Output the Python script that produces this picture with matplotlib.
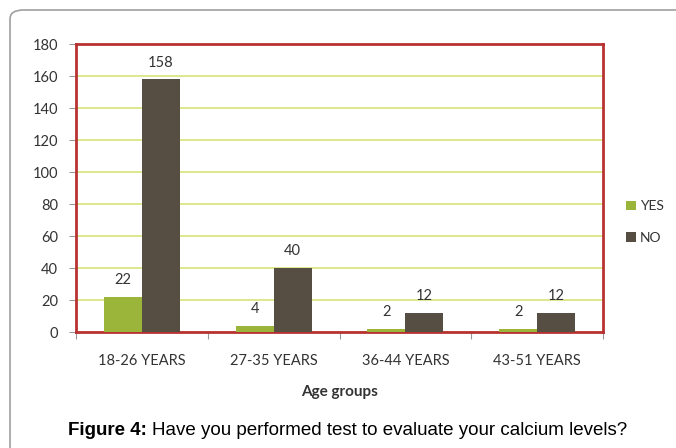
import numpy as np
import matplotlib.pyplot as plt
from matplotlib.patches import FancyBboxPatch

groups = ['18-26 YEARS', '27-35 YEARS', '36-44 YEARS', '43-51 YEARS']
yes = [22, 4, 2, 2]
no = [158, 40, 12, 12]
yticks = [0, 20, 40, 60, 80, 100, 120, 140, 160, 180]

c_yes = '#9bb53a'
c_no = '#564d43'
txt = '#333333'

plt.rcParams['font.family'] = ['Lato', 'DejaVu Sans']

W, H = 676, 448
fig = plt.figure(figsize=(W / 100, H / 100), dpi=100)

# grey rounded frame around the figure (runs off right and bottom edge)
frame = FancyBboxPatch((10 / W, -0.1), 1.2, (H - 10) / H + 0.1,
                       boxstyle='round,pad=0,rounding_size=0.02',
                       transform=fig.transFigure, fill=False,
                       edgecolor='#a0a0a0', linewidth=1.2)
fig.patches.append(frame)

ax = fig.add_axes([76 / W, 1 - 332 / H, (603 - 76) / W, (332 - 44) / H])

x = np.arange(len(groups))
w = 0.288
b1 = ax.bar(x - w / 2, yes, w, color=c_yes, label='YES', zorder=3)
b2 = ax.bar(x + w / 2, no, w, color=c_no, label='NO', zorder=3)

for bars, vals in ((b1, yes), (b2, no)):
    for r, v in zip(bars, vals):
        ax.text(r.get_x() + r.get_width() / 2, v + 6, str(v),
                ha='center', va='bottom', fontsize=10.5, color=txt)

ax.set_xlim(-0.5, len(groups) - 0.5)
ax.set_ylim(0, 180)
ax.set_yticks(yticks)
ax.yaxis.grid(True, color='#d8e47a', linewidth=1.2, zorder=0)
ax.set_xticks(np.arange(len(groups) + 1) - 0.5)
ax.set_xticklabels([])
ax.set_xticks(x, minor=True)
ax.set_xticklabels(groups, minor=True)
ax.tick_params(axis='x', which='minor', length=0, pad=16, labelsize=10.5,
               labelcolor=txt)
ax.tick_params(axis='x', which='major', length=5, color='#999999')
ax.tick_params(axis='y', length=5, color='#999999', labelsize=10.5,
               labelcolor=txt, pad=8)

for s in ax.spines.values():
    s.set_color('#b83232')
    s.set_linewidth(2)

ax.set_xlabel('Age groups', fontsize=11, fontweight='bold', color=txt,
              labelpad=12)

ax.legend(loc='center left', bbox_to_anchor=(1.02, 0.382), frameon=False,
          fontsize=10, handlelength=0.7, handleheight=0.7,
          handletextpad=0.3, labelspacing=1.4, labelcolor=txt)

# caption: bold prefix followed by normal text
cap_y = 1 - 430 / H
t1 = fig.text(68 / W, cap_y, 'Figure 4:', ha='left', va='center',
              fontsize=13.5, fontweight='bold', family='Liberation Sans')
fig.canvas.draw()
bb = t1.get_window_extent()
fig.text(bb.x1 / W + 5 / W, cap_y, 'Have you performed test to evaluate your calcium levels?',
         ha='left', va='center', fontsize=13.5, family='Liberation Sans')

fig.savefig('out.png', dpi=100)
